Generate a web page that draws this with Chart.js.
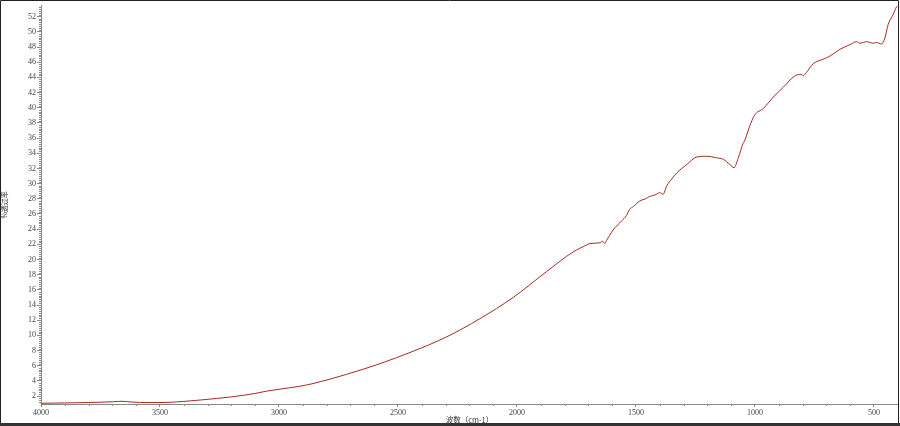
<!DOCTYPE html>
<html>
<head>
<meta charset="utf-8">
<title>透过率</title>
<script src="https://cdn.jsdelivr.net/npm/chart.js@4/dist/chart.umd.min.js"></script>
<style>
  html, body { margin: 0; padding: 0; background: #fff; }
  #wrap { width: 900px; height: 426px; }
</style>
</head>
<body>
<div id="wrap"><canvas id="spectrum" width="900" height="426"></canvas></div>
<script>
// wavenumber (cm-1), high to low
const wavenumbers = [
  4000, 3900, 3800, 3700, 3660, 3620, 3550, 3500, 3400, 3325, 3200, 3100, 3053, 3000,
  2913, 2857, 2717, 2577, 2437, 2296, 2156, 2016, 1876, 1764, 1708, 1694, 1652, 1640,
  1631, 1624, 1610, 1596, 1560, 1540, 1527, 1510, 1485, 1460, 1443, 1420, 1400, 1386,
  1371, 1350, 1329, 1287, 1245, 1203, 1161, 1133, 1105, 1088, 1070, 1050, 1044, 1023,
  1002, 965, 923, 881, 832, 804, 797, 785, 755, 713, 685, 643, 601, 573, 559, 531, 503,
  489, 468, 454, 440, 419, 405, 400
];
// %透过率 at each wavenumber
const transmittance = [
  1.05, 1.1, 1.15, 1.25, 1.32, 1.22, 1.15, 1.15, 1.3, 1.5, 1.9, 2.35, 2.65, 2.9,
  3.3, 3.65, 4.86, 6.26, 7.9, 9.8, 12.2, 15.0, 18.4, 21.0, 21.9, 22.1, 22.2, 22.4,
  22.1, 22.5, 23.2, 23.9, 25.1, 25.8, 26.6, 27.0, 27.7, 28.0, 28.3, 28.5, 28.8, 28.6,
  29.7, 30.6, 31.4, 32.5, 33.5, 33.6, 33.4, 33.2, 32.5, 32.1, 33.4, 35.3, 35.6, 37.5,
  39.0, 39.9, 41.4, 42.7, 44.2, 44.4, 44.2, 44.6, 45.8, 46.4, 46.8, 47.7, 48.3, 48.7, 48.5, 48.7, 48.5,
  48.6, 48.4, 49.2, 51.0, 52.3, 53.3, 53.4
];
const xTicks = [4000, 3500, 3000, 2500, 2000, 1500, 1000, 500];
const yTicks = [2, 4, 6, 8, 10, 12, 14, 16, 18, 20, 22, 24, 26, 28, 30, 32, 34, 36, 38, 40, 42, 44, 46, 48, 50, 52];

const axisColor = '#8a8a8a';
const labelColor = '#444';
const tickFont = { family: '"Liberation Serif", serif', size: 8 };

// small ticks between the labelled ones, placed through the scales
const minorTicks = {
  id: 'minorTicks',
  afterDraw(chart) {
    const { ctx, scales: { x, y } } = chart;
    ctx.save();
    ctx.strokeStyle = axisColor;
    ctx.lineWidth = 1;
    ctx.beginPath();
    for (let v = 4000; v >= 500; v -= 100) {
      if (v % 500 === 0) continue;
      const px = Math.round(x.getPixelForValue(v)) + 0.5;
      ctx.moveTo(px, y.bottom);
      ctx.lineTo(px, y.bottom + 2);
    }
    for (let v = 1.25; v <= 53.25; v += 0.25) {
      if (v % 2 === 0) continue;
      const py = Math.round(y.getPixelForValue(v)) + 0.5;
      ctx.moveTo(x.left - 2, py);
      ctx.lineTo(x.left, py);
    }
    ctx.stroke();
    ctx.restore();
  }
};

// dark frame round the whole picture
const frame = {
  id: 'frame',
  afterDraw(chart) {
    const ctx = chart.ctx;
    ctx.save();
    ctx.strokeStyle = '#222';
    ctx.lineWidth = 1;
    ctx.beginPath();
    ctx.moveTo(0.5, 423);
    ctx.lineTo(0.5, 0.5);
    ctx.lineTo(898.5, 0.5);
    ctx.lineTo(898.5, 423);
    ctx.stroke();
    ctx.fillStyle = '#333';
    ctx.fillRect(0, 423, 900, 3);
    ctx.restore();
  }
};

new Chart(document.getElementById('spectrum'), {
  type: 'line',
  data: {
    datasets: [{
      label: '%透过率',
      data: wavenumbers.map((w, i) => ({ x: w, y: transmittance[i] })),
      borderColor: '#a82a24',
      borderWidth: 1,
      pointRadius: 0,
      cubicInterpolationMode: 'monotone',
      fill: false
    }]
  },
  options: {
    responsive: false,
    animation: false,
    layout: { padding: { top: 1, right: 2, bottom: 0, left: 0 } },
    plugins: { legend: { display: false }, tooltip: { enabled: false } },
    scales: {
      x: {
        type: 'linear',
        reverse: true,
        min: 399,
        max: 4000,
        afterBuildTicks: (scale) => { scale.ticks = xTicks.map(v => ({ value: v })); },
        afterFit: (scale) => { scale.height = 22; },
        border: { color: axisColor, width: 1 },
        grid: { drawOnChartArea: false, drawTicks: true, tickLength: 3, tickColor: axisColor },
        ticks: {
          color: labelColor, font: tickFont, padding: 1, maxRotation: 0, autoSkip: false,
          callback: (v) => String(v)
        },
        title: {
          display: true,
          text: '波数（cm-1）',
          color: '#333',
          font: { family: '"Noto Sans CJK SC", sans-serif', size: 7.5 },
          padding: { top: 0, bottom: 1.5 }
        }
      },
      y: {
        min: 0.96,
        max: 53.43,
        afterBuildTicks: (scale) => { scale.ticks = yTicks.map(v => ({ value: v })); },
        afterFit: (scale) => { scale.width = 41; },
        border: { color: axisColor, width: 1 },
        grid: { drawOnChartArea: false, drawTicks: true, tickLength: 4, tickColor: axisColor },
        ticks: { color: labelColor, font: tickFont, padding: 1, autoSkip: false, callback: (v) => String(v) },
        title: {
          display: true,
          text: '%透过率',
          color: '#333',
          font: { family: '"Noto Sans CJK SC", sans-serif', size: 7 },
          padding: { top: 0.5, bottom: 0 }
        }
      }
    }
  },
  plugins: [minorTicks, frame]
});
</script>
</body>
</html>
